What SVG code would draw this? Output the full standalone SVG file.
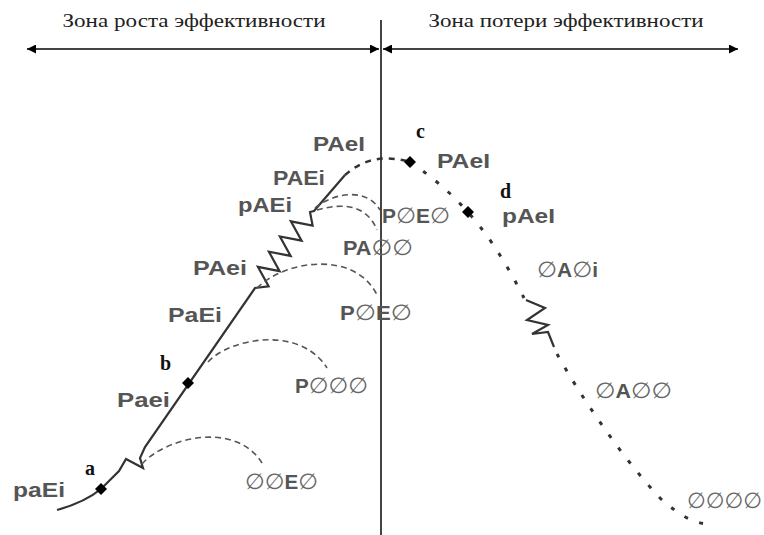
<svg xmlns="http://www.w3.org/2000/svg" width="764" height="535" viewBox="0 0 764 535">
<defs>
<marker id="ah" viewBox="0 0 10 10" refX="10" refY="5" markerWidth="9" markerHeight="9" markerUnits="userSpaceOnUse" orient="auto-start-reverse">
<path d="M0,0 L10,5 L0,10 z" fill="#000"/>
</marker>
<style>
.hdr{font-family:"Liberation Serif","Times New Roman",serif;font-size:19px;fill:#222}
.lbl{font-family:"Liberation Sans",Arial,sans-serif;font-size:20px;font-weight:bold;fill:#555}
.e{font-family:"DejaVu Sans",sans-serif;font-weight:normal;font-size:22px;fill:#666}
.pt{font-family:"Liberation Serif","Times New Roman",serif;font-size:20px;font-weight:bold;fill:#111}
.solid{fill:none;stroke:#333;stroke-width:2.2;stroke-linejoin:miter}
.branch{fill:none;stroke:#555;stroke-width:1.6;stroke-dasharray:6 4}
.dot{fill:none;stroke:#333;stroke-width:3;stroke-dasharray:4 12}
.dash{fill:none;stroke:#333;stroke-width:2.5;stroke-dasharray:6 6}
.axis{fill:none;stroke:#444;stroke-width:2}
.dia{fill:#000}
</style>
</defs>
<rect width="764" height="535" fill="#fff"/>

<g id="header">
<text class="hdr" x="194" y="27" text-anchor="middle" textLength="263" lengthAdjust="spacingAndGlyphs">Зона роста эффективности</text>
<text class="hdr" x="566" y="27" text-anchor="middle" textLength="275" lengthAdjust="spacingAndGlyphs">Зона потери эффективности</text>
<line class="axis" x1="381" y1="20" x2="381" y2="535"/>
<line class="axis" x1="27" y1="49" x2="379" y2="49" marker-start="url(#ah)" marker-end="url(#ah)"/>
<line class="axis" x1="383" y1="49" x2="738" y2="49" marker-start="url(#ah)" marker-end="url(#ah)"/>
</g>

<g id="connectors">
<path class="solid" d="M57,510 C75,505 90,498 101,489 L119,471 L126,459 L143,468 L140,458 L145,447 L255,288 L268.6,286.3 L257.9,266.9 L279.6,271.1 L268.9,251.7 L290.6,255.9 L279.9,236.5 L301.6,240.7 L290.9,221.3 L312.6,225.5 L310,212 L314,211 L345,175"/>
<path class="dash" d="M345,175 C362,160 382,154 410,162"/>
<path class="dot" d="M410,162 C440,182 465,205 490,240 C505,262 516,282 524,298"/>
<path class="solid" d="M526,300 L545,308 L527,320 L548,325 L532,334 L548,332 L554,347"/>
<path class="dot" d="M557,354 C580,395 620,455 660,498 C680,516 695,524 710,524"/>
<path class="branch" d="M142,464 C165,438 235,420 262,463"/>
<path class="branch" d="M208,362 C230,338 300,325 327,368"/>
<path class="branch" d="M257,288 C285,260 355,250 377,295"/>
<path class="branch" d="M315,208 C330,195 365,185 380,210"/>
<path class="branch" d="M317,210 C335,205 365,200 377,230"/>
</g>

<g id="points">
<path class="dia" d="M101,483 L107,489 L101,495 L95,489 z"/>
<path class="dia" d="M188,377 L194,383 L188,389 L182,383 z"/>
<path class="dia" d="M410,156 L416,162 L410,168 L404,162 z"/>
<path class="dia" d="M468,206 L474,212 L468,218 L462,212 z"/>
<text class="pt" x="85" y="475">a</text>
<text class="pt" x="160" y="370">b</text>
<text class="pt" x="416" y="138">c</text>
<text class="pt" x="500" y="198">d</text>
</g>

<g id="n-paEi"><text class="lbl" x="13" y="497" textLength="52" lengthAdjust="spacingAndGlyphs">paEi</text></g>
<g id="n-Paei"><text class="lbl" x="117" y="407" textLength="53" lengthAdjust="spacingAndGlyphs">Paei</text></g>
<g id="n-PaEi"><text class="lbl" x="168" y="322" textLength="54" lengthAdjust="spacingAndGlyphs">PaEi</text></g>
<g id="n-PAei"><text class="lbl" x="193" y="275" textLength="54" lengthAdjust="spacingAndGlyphs">PAei</text></g>
<g id="n-pAEi"><text class="lbl" x="238" y="212" textLength="54" lengthAdjust="spacingAndGlyphs">pAEi</text></g>
<g id="n-PAEi"><text class="lbl" x="273" y="185" textLength="52" lengthAdjust="spacingAndGlyphs">PAEi</text></g>
<g id="n-PAeI-1"><text class="lbl" x="313" y="151" textLength="52" lengthAdjust="spacingAndGlyphs">PAeI</text></g>
<g id="n-PAeI-2"><text class="lbl" x="437" y="168" textLength="53" lengthAdjust="spacingAndGlyphs">PAeI</text></g>
<g id="n-pAeI"><text class="lbl" x="502" y="223" textLength="53" lengthAdjust="spacingAndGlyphs">pAeI</text></g>
<g id="n-PxEx-1"><text class="lbl" x="382" y="223" textLength="68" lengthAdjust="spacingAndGlyphs">P<tspan class="e">∅</tspan>E<tspan class="e">∅</tspan></text></g>
<g id="n-PAxx"><text class="lbl" x="343" y="255" textLength="70" lengthAdjust="spacingAndGlyphs">PA<tspan class="e">∅∅</tspan></text></g>
<g id="n-PxEx-2"><text class="lbl" x="340" y="320" textLength="72" lengthAdjust="spacingAndGlyphs">P<tspan class="e">∅</tspan>E<tspan class="e">∅</tspan></text></g>
<g id="n-Pxxx"><text class="lbl" x="295" y="393" textLength="73" lengthAdjust="spacingAndGlyphs">P<tspan class="e">∅∅∅</tspan></text></g>
<g id="n-xxEx"><text class="lbl" x="245" y="489" textLength="73" lengthAdjust="spacingAndGlyphs"><tspan class="e">∅∅</tspan>E<tspan class="e">∅</tspan></text></g>
<g id="n-xAxi"><text class="lbl" x="537" y="277" textLength="61" lengthAdjust="spacingAndGlyphs"><tspan class="e">∅</tspan>A<tspan class="e">∅</tspan>i</text></g>
<g id="n-xAxx"><text class="lbl" x="595" y="398" textLength="77" lengthAdjust="spacingAndGlyphs"><tspan class="e">∅</tspan>A<tspan class="e">∅∅</tspan></text></g>
<g id="n-xxxx"><text class="lbl" x="687" y="508" textLength="75" lengthAdjust="spacingAndGlyphs"><tspan class="e">∅∅∅∅</tspan></text></g>
</svg>
